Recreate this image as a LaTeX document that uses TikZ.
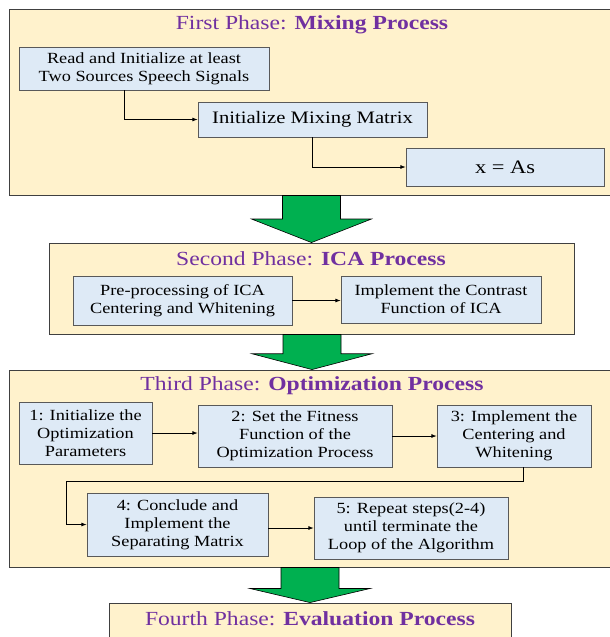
\documentclass[tikz,border=0pt]{standalone}
\usepackage{fontspec}
\setmainfont{Liberation Serif}[FakeStretch=1.18]
\usetikzlibrary{arrows.meta,positioning,calc}

\definecolor{phasefill}{HTML}{FFF2CC}
\definecolor{boxfill}{HTML}{DEEAF6}
\definecolor{titlepurple}{HTML}{7030A0}
\definecolor{arrowgreen}{HTML}{00B050}

% fat green arrow from one phase to the next
\newcommand{\phasearrow}[3]{%
  \coordinate (a0) at (#1.south -| #2.north);
  \coordinate (a1) at (#2.north);
  \coordinate (ah) at ($(a0)!#3!(a1)$);
  \draw[bigarr] ([xshift=-29pt]a0) -- ([xshift=-29pt]ah) -- ([xshift=-60pt]ah)
    -- (a1) -- ([xshift=60pt]ah) -- ([xshift=29pt]ah) -- ([xshift=29pt]a0) -- cycle;
}

\begin{document}
\begin{tikzpicture}[
    x=1pt, y=-1pt,
    phase/.style={draw=black!75, fill=phasefill, line width=0.9pt, inner sep=0pt},
    box/.style={draw=black!65, fill=boxfill, line width=0.8pt, align=center,
                inner sep=0pt, font=\fontsize{15.5}{18}\selectfont},
    title/.style={text=titlepurple, font=\fontsize{20}{24}\selectfont},
    arr/.style={-{Latex[length=1.8mm]}, line width=0.7pt},
    bigarr/.style={draw=black, fill=arrowgreen, line width=0.6pt}
]
\useasboundingbox (0,0) rectangle (610,637);

% phases
\node[phase, minimum width=606pt, minimum height=186pt] (p1) at (312,102) {};
\node[phase, minimum width=525pt, minimum height=91pt] (p2) at (311.5,288.5) {};
\node[phase, minimum width=606pt, minimum height=197pt] (p3) at (312,468.5) {};
\node[phase, minimum width=402pt, minimum height=60pt] (p4) at (310,633) {};

\node[title] (t1) at (312,25) {First Phase: \textbf{Mixing Process}};
\node[title] (t2) at (311,259) {Second Phase: \textbf{ICA Process}};
\node[title] (t3) at (312,386) {Third Phase: \textbf{Optimization Process}};
\node[title] (t4) at (310,619) {Fourth Phase: \textbf{Evaluation Process}};

% first phase
\node[box, minimum width=250pt, minimum height=43pt] (read) at (144,68.5)
    {Read and Initialize at least\\ Two Sources Speech Signals};
\node[box, minimum width=229pt, minimum height=35pt,
      font=\fontsize{17.5}{20}\selectfont] (mix) at (312.5,119.5)
    {Initialize Mixing Matrix};
\node[box, minimum width=198pt, minimum height=38pt,
      font=\fontsize{19}{22}\selectfont] (xas) at (505,167)
    {x = As};

\draw[arr] ([xshift=-19.5pt]read.south) |- (mix);
\draw[arr] (mix.south) |- (xas);

% second phase
\node[box, minimum width=219pt, minimum height=49pt] (pre) at (182.5,300.5)
    {Pre-processing of ICA\\ Centering and Whitening};
\node[box, minimum width=200pt, minimum height=47pt] (contrast) at (441,299.5)
    {Implement the Contrast\\ Function of ICA};

\draw[arr] (pre.east) -- (pre.east -| contrast.west);

% third phase
\node[box, minimum width=133pt, minimum height=62pt] (init) at (85.5,433)
    {1: Initialize the\\ Optimization\\ Parameters};
\node[box, minimum width=194pt, minimum height=62pt] (fit) at (295,436)
    {2: Set the Fitness\\ Function of the\\ Optimization Process};
\node[box, minimum width=154pt, minimum height=62pt] (center) at (514,436)
    {3: Implement the\\ Centering and\\ Whitening};
\node[box, minimum width=181pt, minimum height=63pt] (sep) at (177.5,524.5)
    {4: Conclude and\\ Implement the\\ Separating Matrix};
\node[box, minimum width=194pt, minimum height=62pt] (rep) at (411,528)
    {5: Repeat steps(2-4)\\ until terminate the\\ Loop of the Algorithm};

\draw[arr] (init.east) -- (init.east -| fit.west);
\draw[arr] (fit) -- (center);
\draw[arr] ([xshift=9pt]center.south) -- ++(0,14) -| ([xshift=-20pt]sep.west) -- (sep.west);
\draw[arr] (sep.east |- rep) -- (rep.west);

% between phases
\phasearrow{p1}{p2}{0.5}
\phasearrow{p2}{p3}{0.55}
\phasearrow{p3}{p4}{0.6}

\end{tikzpicture}
\end{document}
